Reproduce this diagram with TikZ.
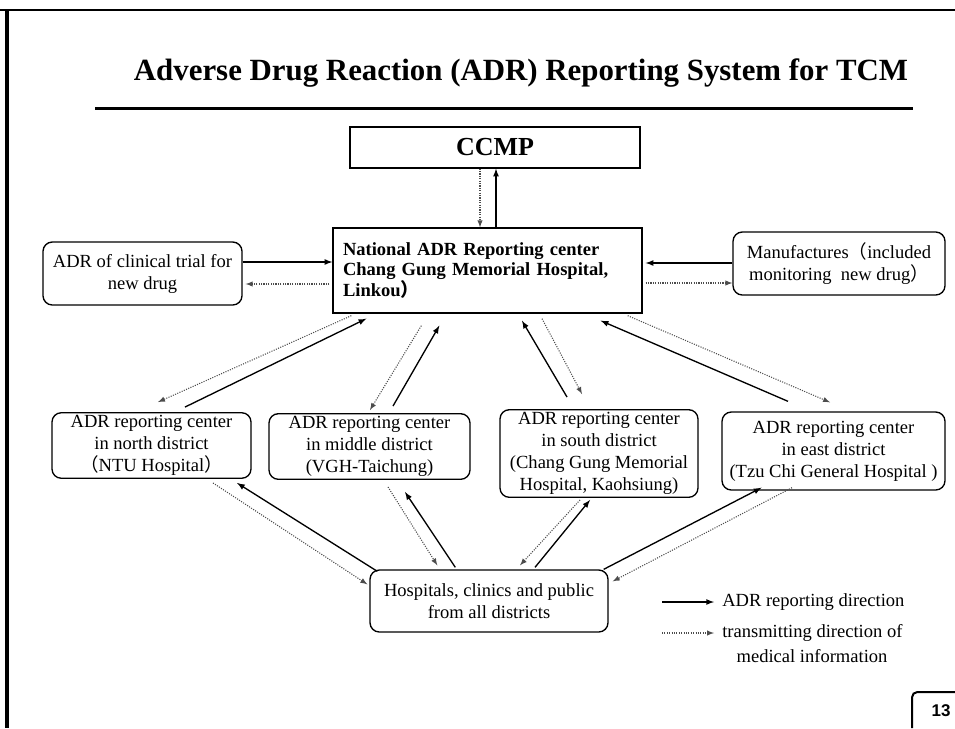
\documentclass[tikz,border=0pt]{standalone}
\usepackage{fontspec}
\setmainfont{Liberation Serif}
\setsansfont{Liberation Sans}
\newfontfamily\cjkfont{Noto Sans CJK SC}
\usetikzlibrary{calc}
\tikzset{>=latex}
\colorlet{dotgray}{black!70}
\newcommand{\fwopen}{{\cjkfont （}}
\newcommand{\fwclose}{{\cjkfont ）}}
\tikzset{
  box/.style = {draw, line width=1pt, inner sep=2pt, align=center,
    font=\fontsize{13.9}{16.5}\selectfont},
  roundbox/.style = {box, rounded corners=7pt},
  report/.style = {->, line width=1pt},
  inform/.style = {->, densely dotted, line width=0.8pt, dotgray},
  legend/.style = {anchor=west, inner sep=0pt, font=\fontsize{13.9}{16.5}\selectfont}
}

\begin{document}
\begin{tikzpicture}[x=0.75pt,y=-0.75pt]
  \useasboundingbox (0,0) rectangle (955,728);
  % page frame
  \draw[line width=2pt] (0,10) -- (955,10);
  \draw[line width=2.5pt] (7,10) -- (7,728);
  % title
  \node[anchor=base,font=\fontsize{23.15}{26}\selectfont\bfseries] (title) at (521,80)
    {Adverse Drug Reaction (ADR) Reporting System for TCM};
  \draw[line width=2.25pt] (95,108) -- (913,108);
  % centers
  \node[box,minimum width=217.5pt,minimum height=30.75pt,font=\fontsize{19.5}{22}\selectfont\bfseries]
    (ccmp) at (495,147.5) {CCMP};
  \node[box,align=left,text width=216.75pt,inner xsep=7.5pt,minimum height=63.75pt,
    font=\fontsize{13.9}{15}\selectfont\bfseries] (nat) at (487.5,270.5)
    {National ADR Reporting center\\Chang Gung Memorial Hospital,\\Linkou\fwclose};
  \node[roundbox,minimum width=149.25pt,minimum height=47.25pt] (trial) at (142.5,273.5)
    {ADR of clinical trial for\\new drug};
  \node[roundbox,minimum width=159pt,minimum height=47.25pt] (manuf) at (839,263.5)
    {Manufactures\fwopen included\\monitoring\ \ new drug\fwclose};
  % district centers
  \node[roundbox,minimum width=149.25pt,minimum height=48.75pt] (rcnorth) at (151.5,445.5)
    {ADR reporting center\\in north district\\\fwopen NTU Hospital\fwclose};
  \node[roundbox,minimum width=150.75pt,minimum height=47.25pt] (rcmiddle) at (369.5,446.5)
    {ADR reporting center\\in middle district\\(VGH-Taichung)};
  \node[roundbox,minimum width=148.5pt,minimum height=62.25pt] (rcsouth) at (599,453.5)
    {ADR reporting center\\in south district\\(Chang Gung Memorial\\Hospital, Kaohsiung)};
  \node[roundbox,minimum width=167.25pt,minimum height=58.5pt] (rceast) at (833.5,451)
    {ADR reporting center\\in east district\\(Tzu Chi General Hospital )};
  \node[roundbox,minimum width=178.5pt,minimum height=46.5pt] (hosp) at (489,601)
    {Hospitals, clinics and public\\from all districts};
  % CCMP link
  \draw[inform] ($(ccmp.south)+(-15,0)$) -- ($(nat.north)+(-7.5,0)$);
  \draw[report] ($(nat.north)+(8.5,0)$) -- ($(ccmp.south)+(1,0)$);
  % side boxes
  \draw[report] ($(trial.east)+(0,-11.5)$) -- ($(nat.west)+(0,-8.5)$);
  \draw[inform] ($(nat.west)+(-3,13.5)$) -- ($(trial.east)+(3,10.5)$);
  \draw[report] ($(manuf.west)+(0,-0.5)$) -- ($(nat.east)+(3,-7.5)$);
  \draw[inform] ($(nat.east)+(3,12.5)$) -- ($(manuf.west)+(0,19.5)$);
  % national center and districts
  \draw[inform] ($(nat.south west)+(19,2)$) -- ($(rcnorth.north)+(6.5,-10)$);
  \draw[report] ($(rcnorth.north)+(33.5,-5)$) -- ($(nat.south west)+(34,5)$);
  \draw[inform] ($(nat.south west)+(89,12)$) -- ($(rcmiddle.north)+(0.5,-3)$);
  \draw[report] ($(rcmiddle.north)+(23.5,-7)$) -- ($(nat.south west)+(107,12)$);
  \draw[report] ($(rcsouth.north)+(-32,-12)$) -- ($(nat.south)+(34.5,7)$);
  \draw[inform] ($(nat.south)+(54.5,5)$) -- ($(rcsouth.north)+(-17,-15)$);
  \draw[report] ($(rceast.north)+(-45.5,-10)$) -- ($(nat.south east)+(-42,7)$);
  \draw[inform] ($(nat.south east)+(-15,2)$) -- ($(rceast.north)+(-3.5,-9)$);
  % districts and hospitals
  \draw[report] ($(hosp.north west)+(8,2)$) -- ($(rcnorth.south)+(85.5,4)$);
  \draw[inform] ($(rcnorth.south)+(61.5,4)$) -- ($(hosp.north west)+(-2,15)$);
  \draw[inform] ($(rcmiddle.south)+(18.5,7)$) -- ($(hosp.north west)+(68,-4)$);
  \draw[report] ($(hosp.north west)+(86,-2)$) -- ($(rcmiddle.south)+(35.5,12)$);
  \draw[inform] ($(rcsouth.south)+(-19,2)$) -- ($(hosp.north)+(31,-4)$);
  \draw[report] ($(hosp.north)+(46,-2)$) -- ($(rcsouth.south)+(-9,2)$);
  \draw[report] ($(hosp.north east)+(-5,0)$) -- ($(rceast.south)+(-72,-3)$);
  \draw[inform] ($(rceast.south)+(-41.5,-3)$) -- ($(hosp.north east)+(4,12)$);
  % legend
  \node[legend] (legrep) at (722,602) {ADR reporting direction};
  \coordinate (legrepstart) at (662,602);
  \draw[report] (legrepstart) -- ($(legrep.west)+(-8,0)$);
  \node[legend] (legtrans) at (722,633) {transmitting direction of};
  \node[legend,anchor=center] (legmed) at (812,656) {medical information};
  \coordinate (legtransstart) at (662,633);
  \draw[inform] (legtransstart) -- ($(legtrans.west)+(-8,0)$);
  % page number
  \draw[line width=1.5pt,rounded corners=4pt] (912,728) -- (912,692) -- (955,692);
  \node[font=\fontsize{12.75}{14}\selectfont\sffamily\bfseries] (pagenum) at (941,711) {13};
\end{tikzpicture}
\end{document}
